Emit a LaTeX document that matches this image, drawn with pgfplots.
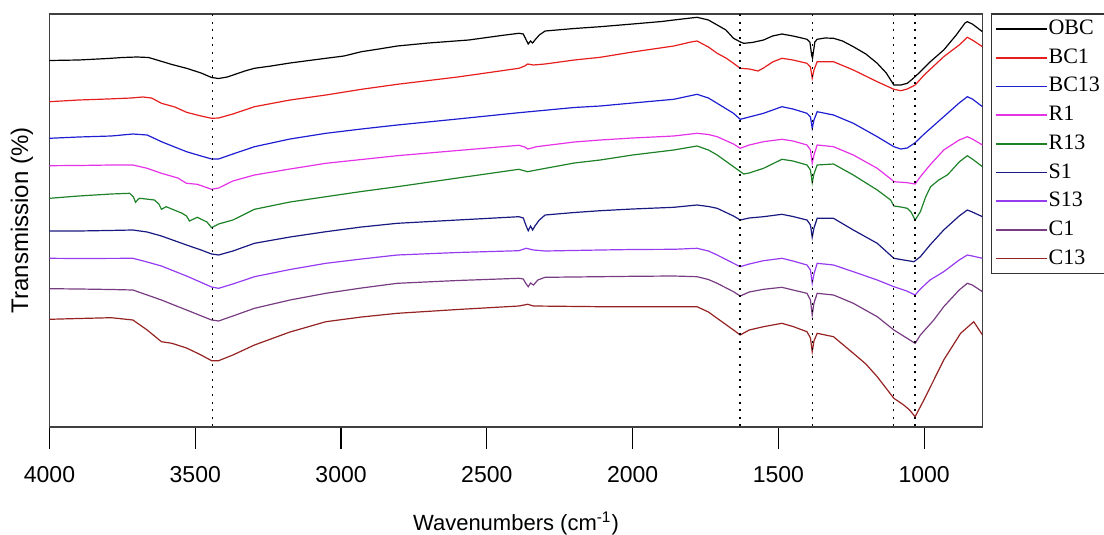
\documentclass[border=0pt]{standalone}
\usepackage{pgfplots}
\pgfplotsset{compat=1.18}
\usepackage{fontspec}
\setmainfont{Liberation Serif}
\setsansfont{Liberation Sans}
\definecolor{cOBC}{RGB}{0,0,0}
\definecolor{cBCa}{RGB}{230,30,30}
\definecolor{cBCb}{RGB}{30,30,210}
\definecolor{cRa}{RGB}{230,50,230}
\definecolor{cRb}{RGB}{30,130,40}
\definecolor{cSa}{RGB}{25,25,130}
\definecolor{cSb}{RGB}{150,60,240}
\definecolor{cCa}{RGB}{120,60,130}
\definecolor{cCb}{RGB}{150,35,35}
\begin{document}
\begin{tikzpicture}
\begin{axis}[
  at={(0,0)}, anchor=south west,
  scale only axis, width=466.5pt, height=206.5pt,
  x dir=reverse, xmin=800, xmax=4000,
  y dir=reverse, ymin=14, ymax=427,
  xtick={1000,1500,2000,2500,3000,3500,4000},
  ytick=\empty,
  xtick pos=bottom,
  tick align=outside,
  major tick length=11pt,
  every tick/.style={black, line width=0.6pt},
  axis line style={line width=0.8pt, black!75},
  /pgf/number format/assume math mode=true,
  /pgf/number format/set thousands separator={},
  xticklabel style={font=\sffamily\fontsize{11.5}{12}\selectfont, anchor=base, yshift=-16.5pt},
  xlabel={Wavenumbers (cm\textsuperscript{-1})},
  xlabel style={font=\sffamily\fontsize{11}{12}\selectfont, at={(axis description cs:0.5,-0.2494)}, anchor=base},
  ylabel={Transmission (\%)},
  ylabel style={font=\sffamily\fontsize{12}{13}\selectfont, at={(axis description cs:-0.0295,0.5)}, anchor=center},
  legend cell align=left,
  legend image code/.code={\draw[#1, line width=0.8pt, solid] (0pt,0pt) -- (25.5pt,0pt);},
  legend style={at={(axis description cs:1,1)}, anchor=north west, xshift=4.35pt, yshift=0.35pt,
    draw=black!80, line width=0.6pt, inner xsep=1.5pt, inner ysep=2.2pt,
    font=\rmfamily\fontsize{11}{12}\selectfont, row sep=3.65pt,
    nodes={inner sep=0.6pt, text height=7.5pt, text depth=2pt}},
  every axis plot/.append style={line width=0.6pt},
]
\addplot[cOBC] coordinates {(4000,60.5)(3900,60)(3800,58.5)(3750,57.5)(3700,57)(3660,57.5)(3620,61)(3580,64.5)(3530,68.3)(3480,73)(3444,77.5)(3420,78.5)(3390,77)(3370,75)(3330,71)(3297,68.3)(3240,66)(3175,63)(3110,60.5)(3052,58.3)(2990,56)(2930,51.7)(2870,49)(2807,46)(2700,43)(2562,40)(2450,35.5)(2390,33.3)(2375,34)(2365,40)(2358,44)(2350,41)(2343,43)(2335,40)(2320,35)(2300,31)(2200,28.5)(2111,26.7)(2000,24)(1900,21.5)(1859,20)(1800,18)(1779,17.3)(1740,20)(1710,25)(1680,30)(1654,38.3)(1630,42)(1619,43.3)(1590,42.5)(1551,40)(1520,36)(1488,34)(1450,36)(1420,38)(1402,39.3)(1392,42)(1386,55)(1383,58.3)(1380,52)(1375,42)(1367,39.3)(1340,38)(1311,38.3)(1280,41)(1243,46.7)(1200,54)(1161,63.3)(1130,73)(1104,85)(1080,85)(1058,83.3)(1040,79)(1013,71.7)(980,62)(933,50)(890,35)(860,23)(852,21.7)(835,24)(800,31.7)};
\addlegendentry{OBC}
\addplot[cBCa] coordinates {(4000,101.7)(3900,100)(3800,99)(3720,98)(3680,97)(3650,98)(3616,103.3)(3570,107)(3530,112.3)(3480,116)(3444,118.3)(3420,118)(3371,114)(3297,106.7)(3175,100)(3052,95)(2930,89.3)(2807,84.3)(2600,77)(2390,68.3)(2370,66)(2360,64)(2340,65)(2300,64)(2200,60)(2111,57.3)(2000,52)(1859,46)(1800,42)(1779,41)(1740,47)(1710,53.3)(1680,58)(1654,63.3)(1631,68.3)(1600,69)(1570,71)(1551,68)(1520,62)(1488,58.3)(1450,60)(1402,63.3)(1390,67)(1384,78.3)(1378,70)(1367,61.7)(1311,61.7)(1243,70)(1161,81.7)(1104,89.3)(1080,90.7)(1058,89)(1031,85)(1000,75)(933,56.7)(880,45)(852,37.3)(835,40)(800,46.7)};
\addlegendentry{BC1}
\addplot[cBCb] coordinates {(4000,138.3)(3900,137)(3788,136)(3714,134)(3665,135)(3616,141.7)(3530,151.7)(3480,156)(3444,159)(3420,159)(3371,154)(3297,146.7)(3175,139)(3052,133.3)(2930,129)(2807,125)(2600,119)(2390,112.7)(2200,107.5)(2111,106)(2000,103)(1859,99.3)(1779,94.3)(1740,98)(1710,103.3)(1654,113.3)(1631,119.3)(1600,117)(1551,113.3)(1488,106.7)(1450,109)(1402,113.3)(1390,117)(1384,128.3)(1378,120)(1367,111.7)(1311,115)(1243,123.3)(1161,136.7)(1104,146.7)(1080,149)(1058,148)(1031,142.7)(1000,134)(933,116.7)(880,103)(852,96.7)(835,99)(800,106.7)};
\addlegendentry{BC13}
\addplot[cRa] coordinates {(4000,165.7)(3900,165.5)(3788,165)(3714,165)(3665,168.3)(3616,173.3)(3560,178)(3530,183.3)(3493,184.3)(3444,189.3)(3420,188)(3371,181)(3297,175)(3175,169)(3052,163.3)(2930,159.5)(2807,155.7)(2600,150.5)(2390,145.3)(2370,147)(2360,149)(2345,148)(2330,146.7)(2200,142)(2111,140)(2000,138)(1859,136)(1779,133.3)(1740,134.5)(1710,136.7)(1654,144)(1631,148.3)(1600,145)(1551,141.7)(1488,139.3)(1450,141)(1402,145)(1390,150)(1384,163.3)(1378,155)(1367,145)(1311,146.7)(1243,155)(1161,168.3)(1110,180)(1104,181.7)(1058,182.7)(1031,184)(1013,176.7)(980,165)(933,150)(880,140)(852,136.7)(835,139)(800,145)};
\addlegendentry{R1}
\addplot[cRb] coordinates {(4000,198.3)(3900,196)(3788,194)(3725,193.3)(3712,197)(3705,202.3)(3695,199)(3690,198.3)(3640,200)(3625,204)(3616,209.3)(3600,206.7)(3545,213.3)(3530,216)(3520,221)(3493,217.3)(3460,222)(3444,227.7)(3420,224)(3371,220)(3297,209.3)(3175,202)(3052,196.7)(2930,191.5)(2807,186.7)(2600,178)(2390,169.3)(2360,171.7)(2330,170)(2200,163)(2111,160)(2000,155)(1859,150)(1779,146)(1740,150)(1710,155)(1654,166.7)(1619,174)(1600,173)(1551,168.3)(1488,159.3)(1450,161)(1402,165)(1390,170)(1384,182.7)(1378,174)(1367,165)(1311,164)(1243,175)(1161,190)(1115,200)(1104,206)(1080,207)(1058,208.3)(1045,212)(1031,220)(1013,211.7)(995,197)(978,186.7)(950,180)(921,175)(910,171.7)(880,162)(852,155.7)(835,159)(800,166.7)};
\addlegendentry{R13}
\addplot[cSa] coordinates {(4000,231)(3900,231)(3800,230.5)(3714,230)(3665,232)(3616,236)(3530,245)(3480,250)(3444,254)(3420,255)(3371,251)(3297,243.3)(3175,237)(3052,231.7)(2930,227)(2807,223.3)(2600,220)(2390,216.7)(2375,218)(2365,226)(2358,230.7)(2350,226)(2343,230)(2335,226)(2320,220)(2300,215)(2200,212.5)(2111,210.7)(2000,209)(1859,207.3)(1779,205)(1740,206.5)(1710,208.3)(1654,216)(1631,220)(1600,218)(1551,216.7)(1488,214.3)(1450,216.5)(1402,220)(1390,225)(1384,237.3)(1378,228)(1367,218.3)(1311,218.3)(1243,230)(1161,243.3)(1104,258.3)(1060,260.5)(1035,261.7)(1013,256.7)(980,245)(933,230)(880,216)(852,210)(835,212)(800,216.7)};
\addlegendentry{S1}
\addplot[cSb] coordinates {(4000,258.3)(3900,258.5)(3714,258.3)(3665,262)(3616,266)(3530,276)(3444,287)(3420,288.3)(3371,284)(3297,276.7)(3175,269.5)(3052,263.3)(2930,259)(2807,255)(2600,252.5)(2390,250.7)(2365,248.3)(2340,250)(2300,251)(2111,250)(2000,249.5)(1859,249.3)(1779,248.3)(1740,251)(1710,255)(1654,263.3)(1631,266.7)(1600,264)(1551,260.7)(1488,258.3)(1450,261)(1402,265)(1390,270)(1384,283.3)(1378,274)(1367,263.3)(1311,265)(1243,271.7)(1161,280)(1104,286.7)(1060,291)(1031,295)(1013,289)(980,280)(933,271.7)(880,260)(852,255)(835,256)(800,258.3)};
\addlegendentry{S13}
\addplot[cCa] coordinates {(4000,288.7)(3900,289)(3788,289.5)(3714,290)(3665,295)(3616,300)(3530,310)(3444,320)(3420,321)(3371,316)(3297,308.3)(3175,300)(3052,293.3)(2930,288)(2807,283.3)(2600,280.5)(2390,278.3)(2375,279)(2365,284)(2358,286.7)(2350,283)(2340,285)(2325,280)(2300,277.3)(2111,276.7)(2000,276.3)(1859,276)(1779,276.7)(1740,279.5)(1710,283.3)(1654,291.7)(1631,296)(1600,292)(1551,289.3)(1488,287.3)(1450,290)(1402,293.3)(1390,300)(1384,315)(1378,303)(1367,293.3)(1311,295)(1243,303.3)(1161,316.7)(1104,330)(1060,338)(1031,343.3)(1013,335)(967,320)(933,306.7)(880,290)(852,283.3)(835,285)(800,291.7)};
\addlegendentry{C1}
\addplot[cCb] coordinates {(4000,319.3)(3900,318.5)(3788,317.7)(3714,320)(3665,330)(3616,341.7)(3580,343.3)(3530,348)(3480,355)(3444,360.7)(3420,360.7)(3371,355)(3297,345)(3175,332)(3052,321.7)(2930,317)(2807,313.3)(2600,309.5)(2390,306)(2360,304.3)(2340,306)(2111,306.7)(1859,306.7)(1779,306.7)(1740,312)(1710,318.3)(1654,330)(1631,335)(1600,330)(1551,326.7)(1488,323.3)(1450,326.5)(1402,331.7)(1390,338)(1384,351.7)(1378,341)(1367,333.3)(1311,336.7)(1243,353.3)(1200,364)(1161,376.7)(1104,398.3)(1070,405)(1050,410)(1031,416.7)(1001,400)(933,360)(875,333.3)(830,321.7)(800,335)};
\addlegendentry{C13}
\addplot[black, line width=0.7pt, dash pattern=on 1pt off 2.8pt, forget plot] coordinates {(3440,14)(3440,427)};
\addplot[black, line width=0.7pt, dash pattern=on 1pt off 2.8pt, forget plot] coordinates {(1632,14)(1632,427)};
\addplot[black, line width=0.7pt, dash pattern=on 1pt off 2.8pt, forget plot] coordinates {(1383,14)(1383,427)};
\addplot[black, line width=0.7pt, dash pattern=on 1pt off 2.8pt, forget plot] coordinates {(1106,14)(1106,427)};
\addplot[black, line width=0.7pt, dash pattern=on 1pt off 2.8pt, forget plot] coordinates {(1032,14)(1032,427)};
\end{axis}
\pgfresetboundingbox
\useasboundingbox (-24.75pt,-54pt) rectangle (527.25pt,213.5pt);
\end{tikzpicture}
\end{document}
